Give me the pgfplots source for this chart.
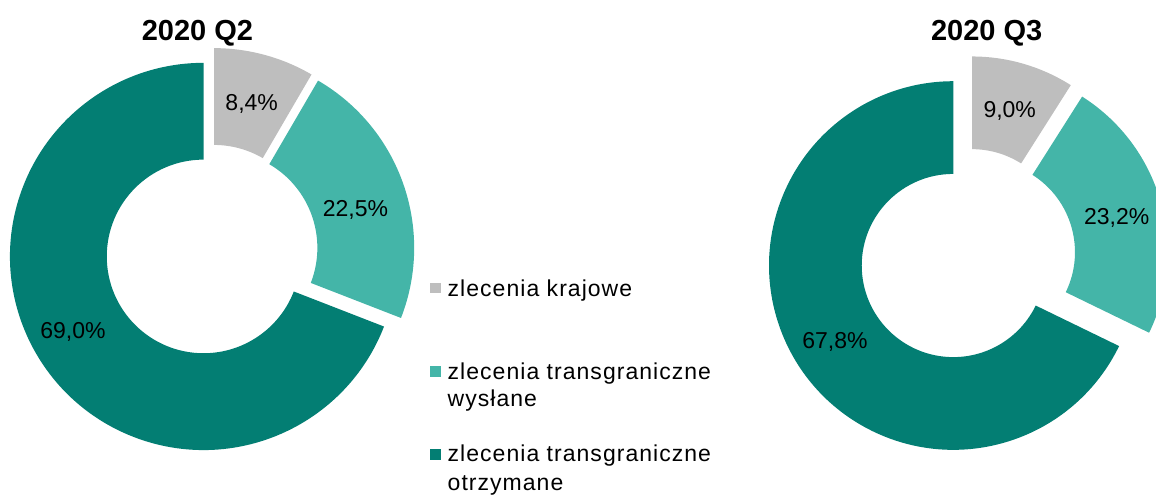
\documentclass[border=0pt]{standalone}
\usepackage{pgfplots}
\usepackage{pgfplotstable}
\pgfplotsset{compat=1.18}
\usetikzlibrary{calc}
\usepackage{fontspec}
\setmainfont{Liberation Sans}
\newfontfamily\legfont[LetterSpace=4.5]{Liberation Sans}
\definecolor{cgray}{HTML}{BEBEBE}
\definecolor{clight}{HTML}{44B5A8}
\definecolor{cdark}{HTML}{037E73}

\pgfplotstableread{
cat value
krajowe 8.4
wyslane 22.5
otrzymane 69.0
}\dataQtwo
\pgfplotstableread{
cat value
krajowe 9.0
wyslane 23.2
otrzymane 67.8
}\dataQthree

\pgfplotstablegetelem{0}{value}\of\dataQtwo\edef\qtA{\pgfplotsretval}
\pgfplotstablegetelem{1}{value}\of\dataQtwo\edef\qtB{\pgfplotsretval}
\pgfplotstablegetelem{2}{value}\of\dataQtwo\edef\qtC{\pgfplotsretval}
\pgfplotstablegetelem{0}{value}\of\dataQthree\edef\qhA{\pgfplotsretval}
\pgfplotstablegetelem{1}{value}\of\dataQthree\edef\qhB{\pgfplotsretval}
\pgfplotstablegetelem{2}{value}\of\dataQthree\edef\qhC{\pgfplotsretval}
\pgfmathsetmacro\qtAB{\qtA+\qtB}
\pgfmathsetmacro\qhAB{\qhA+\qhB}

% #1,#2 centre (px), #3 outer R, #4 inner r, #5 explosion, #6 start %, #7 end %, #8 colour
\newcommand\donutslice[8]{%
  \pgfmathsetmacro\sA{90-3.6*(#6)}%
  \pgfmathsetmacro\sB{90-3.6*(#7)}%
  \pgfmathsetmacro\sM{(\sA+\sB)/2}%
  \edef\sTmp{\noexpand\fill[#8] ($(axis cs:#1,#2)+(\sM:#5)+(\sA:#3)$) arc[start angle=\sA, end angle=\sB, radius=#3] -- ($(axis cs:#1,#2)+(\sM:#5)+(\sB:#4)$) arc[start angle=\sB, end angle=\sA, radius=#4] -- cycle;}%
  \sTmp}

\newcommand\pct[1]{\pgfmathprintnumber[assume math mode=true,use comma,fixed,fixed zerofill,precision=1]{#1}\%}

\begin{document}
\begin{tikzpicture}
\path[use as bounding box] (0,0) rectangle (578pt,247pt);
\begin{axis}[at={(0,0)}, anchor=south west, scale only axis,
  width=578pt, height=247pt, xmin=0, xmax=1156, ymin=0, ymax=494,
  y dir=reverse, hide axis, clip=false]
% Q2 donut
\donutslice{211.5}{251}{96.8pt}{48.4pt}{4.8pt}{0}{\qtA}{cgray}
\donutslice{211.5}{251}{96.8pt}{48.4pt}{4.8pt}{\qtA}{\qtAB}{clight}
\donutslice{211.5}{251}{96.8pt}{48.4pt}{4.8pt}{\qtAB}{100}{cdark}
% Q3 donut
\donutslice{967.4}{256.7}{92.15pt}{45.8pt}{8.3pt}{0}{\qhA}{cgray}
\donutslice{967.4}{256.7}{92.15pt}{45.8pt}{8.3pt}{\qhA}{\qhAB}{clight}
\donutslice{967.4}{256.7}{92.15pt}{45.8pt}{8.3pt}{\qhAB}{100}{cdark}
% titles
\node[anchor=base, inner sep=0, font=\bfseries\fontsize{14.5}{17}\selectfont] at (axis cs:197.5,40.7) {2020 Q2};
\node[anchor=base, inner sep=0, font=\bfseries\fontsize{14.5}{17}\selectfont] at (axis cs:986.7,40.7) {2020 Q3};
% data labels
\begin{scope}[every node/.style={anchor=base, inner sep=0, font=\fontsize{11.5}{13.7}\selectfont}]
\node at (axis cs:251.7,110) {\pct{\qtA}};
\node at (axis cs:355.5,216.7) {\pct{\qtB}};
\node at (axis cs:73,338.3) {\pct{\qtC}};
\node at (axis cs:1009.7,117.3) {\pct{\qhA}};
\node at (axis cs:1116.7,224) {\pct{\qhB}};
\node at (axis cs:835,348.3) {\pct{\qhC}};
\end{scope}
% legend
\fill[cgray] (axis cs:430,282.7) rectangle (axis cs:441,293.3);
\fill[clight] (axis cs:430,366) rectangle (axis cs:441,376.7);
\fill[cdark] (axis cs:430,449) rectangle (axis cs:441,460);
\begin{scope}[every node/.style={anchor=base west, inner sep=0, font=\legfont\fontsize{11.5}{13.7}\selectfont}]
\node at (axis cs:447.3,296) {zlecenia krajowe};
\node at (axis cs:447.3,379.3) {zlecenia transgraniczne};
\node at (axis cs:447.3,406.7) {wysłane};
\node at (axis cs:447.3,461.7) {zlecenia transgraniczne};
\node at (axis cs:447.3,490) {otrzymane};
\end{scope}
\end{axis}
\end{tikzpicture}
\end{document}
